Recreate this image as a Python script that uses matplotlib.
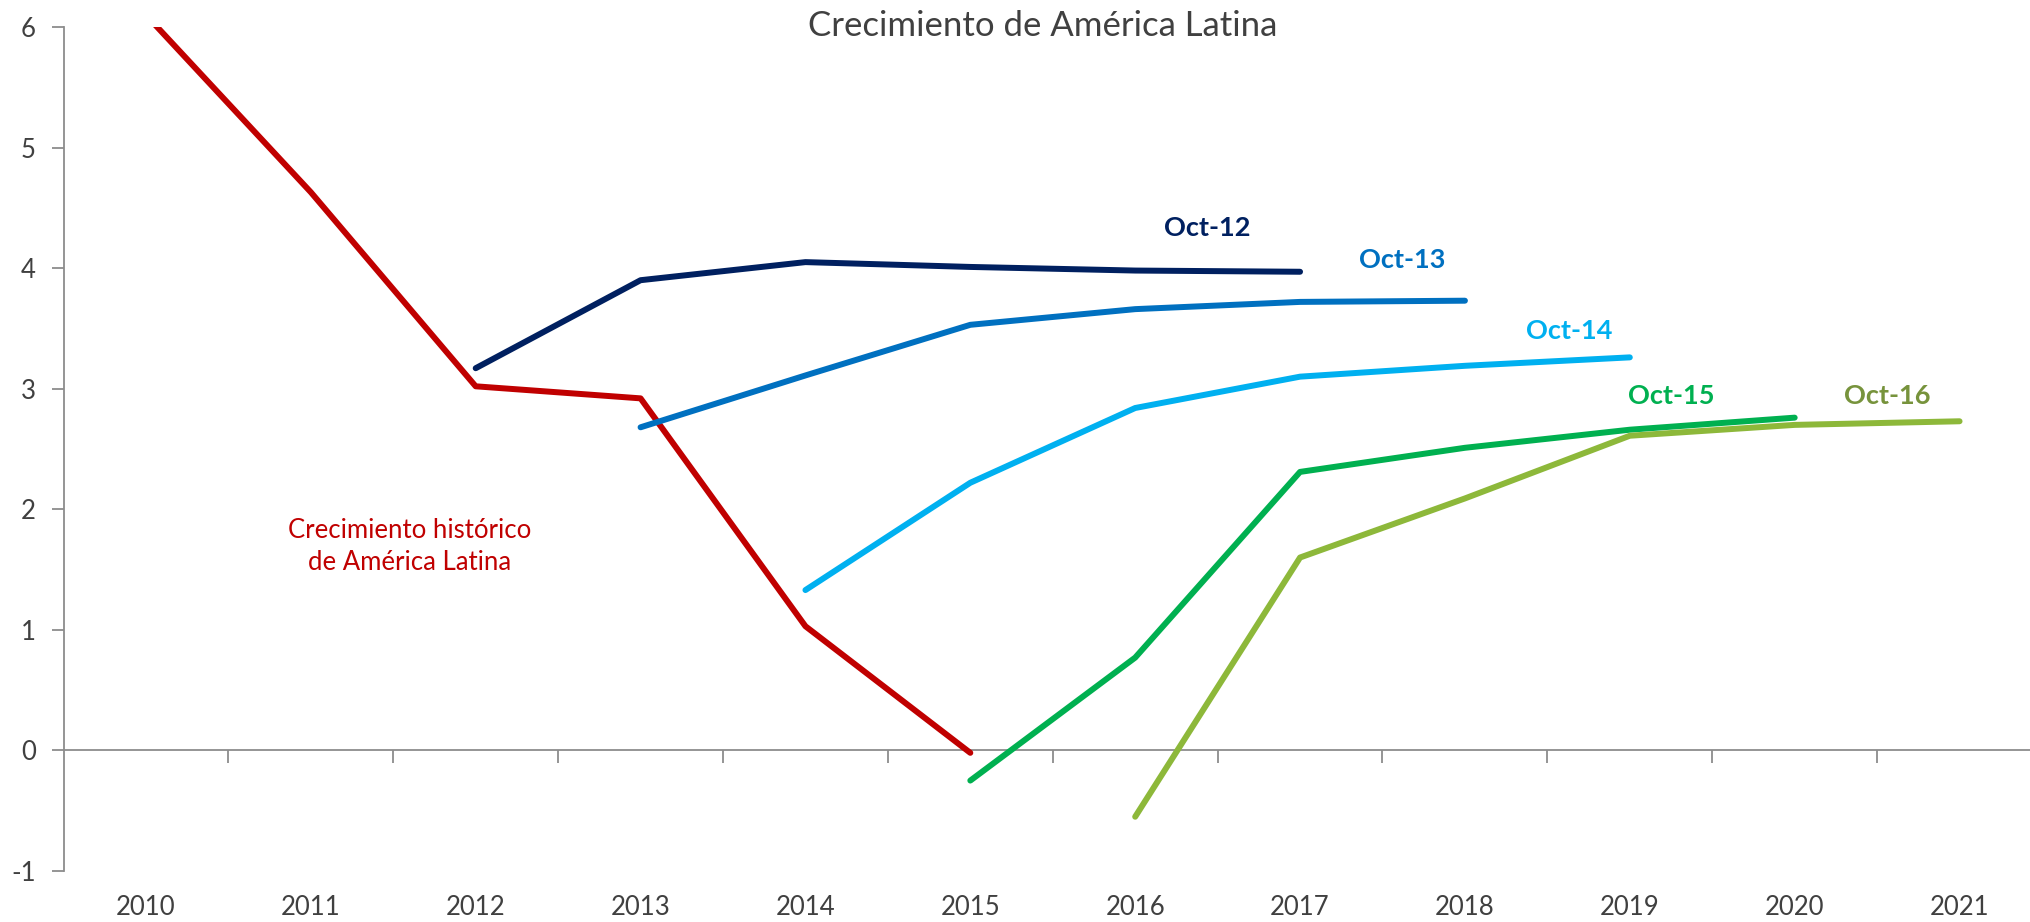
import matplotlib
matplotlib.use("Agg")
import matplotlib.pyplot as plt
from matplotlib.transforms import blended_transform_factory
import numpy as np

plt.rcParams['font.family'] = ['Lato', 'DejaVu Sans']
plt.rcParams['axes.unicode_minus'] = False

years = ["2010", "2011", "2012", "2013", "2014", "2015", "2016", "2017", "2018", "2019", "2020", "2021"]

hist_years = [2010, 2011, 2012, 2013, 2014, 2015]
hist_vals = [6.1, 4.63, 3.02, 2.92, 1.03, -0.02]

oct12_years = [2012, 2013, 2014, 2015, 2016, 2017]
oct12_vals = [3.17, 3.90, 4.05, 4.01, 3.98, 3.97]

oct13_years = [2013, 2014, 2015, 2016, 2017, 2018]
oct13_vals = [2.68, 3.11, 3.53, 3.66, 3.72, 3.73]

oct14_years = [2014, 2015, 2016, 2017, 2018, 2019]
oct14_vals = [1.33, 2.22, 2.84, 3.10, 3.19, 3.26]

oct15_years = [2015, 2016, 2017, 2018, 2019, 2020]
oct15_vals = [-0.25, 0.77, 2.31, 2.51, 2.66, 2.76]

oct16_years = [2016, 2017, 2018, 2019, 2020, 2021]
oct16_vals = [-0.55, 1.60, 2.09, 2.61, 2.70, 2.73]

y_ticks = [-1, 0, 1, 2, 3, 4, 5, 6]

series = [
    (hist_years, hist_vals, "#C00000"),
    (oct12_years, oct12_vals, "#002060"),
    (oct13_years, oct13_vals, "#0070C0"),
    (oct14_years, oct14_vals, "#00B0F0"),
    (oct15_years, oct15_vals, "#00B050"),
    (oct16_years, oct16_vals, "#8DB83A"),
]

labels = [
    ("Oct-12", 6.44, 4.33, "#002060"),
    ("Oct-13", 7.62, 4.07, "#0070C0"),
    ("Oct-14", 8.63, 3.48, "#00B0F0"),
    ("Oct-15", 9.25, 2.94, "#00B050"),
    ("Oct-16", 10.56, 2.94, "#77933C"),
]

W, H = 2031, 922
fig = plt.figure(figsize=(W / 100, H / 100), dpi=100)
left, right, top, bottom = 63.5, 2042, 27, 871
ax = fig.add_axes([left / W, 1 - bottom / H, (right - left) / W, (bottom - top) / H])

x0 = int(years[0])
for yrs, vals, col in series:
    xs = [y - x0 for y in yrs]
    ax.plot(xs, vals, color=col, lw=4.3, solid_capstyle='round', solid_joinstyle='round', zorder=3)

ax.set_xlim(-0.5, len(years) - 0.5)
ax.set_ylim(-1, 6)

axis_col = "#8C8C8C"
for s in ["top", "right"]:
    ax.spines[s].set_visible(False)
ax.spines['left'].set_color(axis_col)
ax.spines['left'].set_linewidth(1.3)
ax.spines['bottom'].set_color(axis_col)
ax.spines['bottom'].set_linewidth(1.3)
ax.spines['bottom'].set_position(('data', 0))

ax.set_yticks(y_ticks)
ax.set_yticklabels([str(v) for v in y_ticks])
ax.set_xticks(np.arange(0.5, len(years) - 0.5, 1.0))
ax.set_xticklabels([])
ax.tick_params(axis='y', direction='out', length=9, width=1.3, color=axis_col,
               labelsize=18.5, labelcolor="#404040", pad=11)
ax.tick_params(axis='x', direction='out', length=9, width=1.3, color=axis_col)

tr = blended_transform_factory(ax.transData, ax.transAxes)
for i, y in enumerate(years):
    ax.text(i, -0.043, y, transform=tr, ha='center', va='center', fontsize=18.5, color="#404040")

for txt, lx, ly, col in labels:
    ax.text(lx, ly, txt, color=col, fontsize=19.5, fontweight='bold', ha='center', va='center')

ax.text(1.60, 1.69, "Crecimiento histórico\nde América Latina", color="#C00000", fontsize=18.5,
        ha='center', va='center', linespacing=1.35)

fig.text(1043 / W, 1 - 26 / H, "Crecimiento de América Latina", ha='center', va='center',
         fontsize=25, color="#404040")

fig.savefig("out.png", dpi=100)
